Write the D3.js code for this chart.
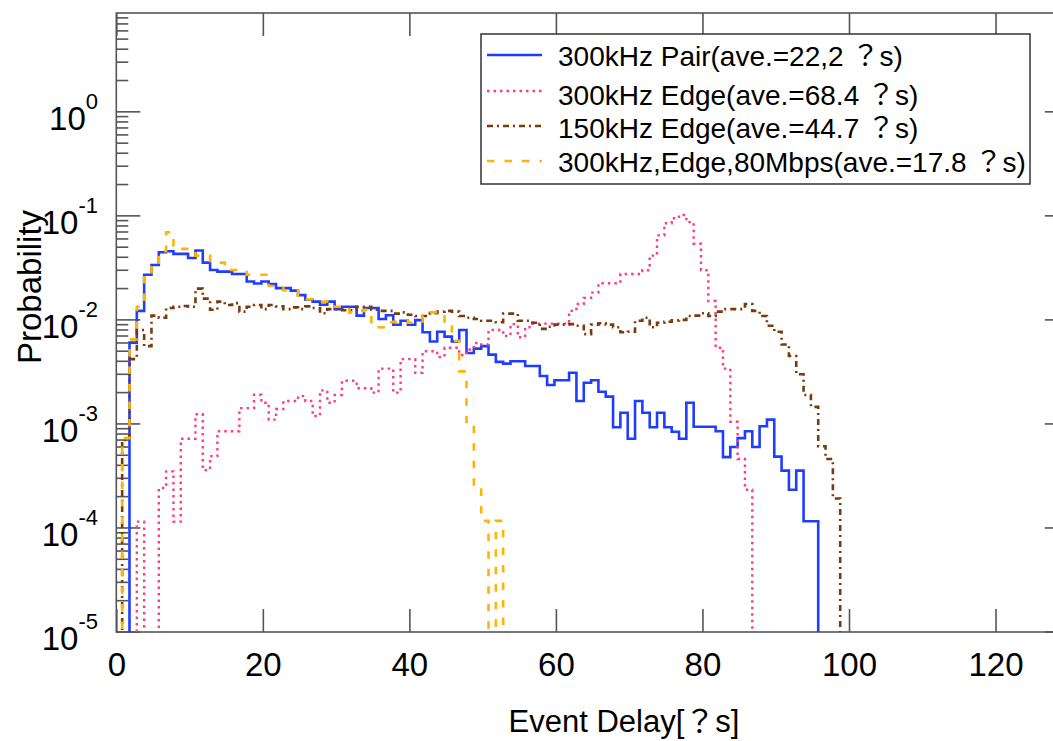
<!DOCTYPE html>
<html><head><meta charset="utf-8">
<script src="https://cdn.jsdelivr.net/npm/d3@7"></script>
<style>
html,body{margin:0;padding:0;background:#fff;}
svg{display:block;font-family:"Liberation Sans",Arial,"Noto Sans CJK JP",sans-serif;}
</style></head>
<body><svg id="chart" width="1053" height="741"></svg>
<script>
// ---------- data ----------
const binWidth = 1;            // µs per histogram bin
const xTicks = [0, 20, 40, 60, 80, 100, 120];
const yTickExps = [0, -1, -2, -3, -4, -5];

const seriesNames = [
  "300kHz Pair(ave.=22,2 \uFF1Fs)",
  "300kHz Edge(ave.=68.4 \uFF1Fs)",
  "150kHz Edge(ave.=44.7 \uFF1Fs)",
  "300kHz,Edge,80Mbps(ave.=17.8 \uFF1Fs)"
];

// 300kHz Pair  (first bin starts at 1.8)
const pairStart = 1.8;
const pairValues = [
 6.05e-3,1.22e-2,2.72e-2,3.37e-2,4.47e-2,4.57e-2,4.31e-2,4.31e-2,3.94e-2,4.64e-2,
 3.55e-2,3.02e-2,2.91e-2,2.91e-2,2.76e-2,2.76e-2,2.34e-2,2.24e-2,2.34e-2,2.21e-2,
 2.02e-2,2.02e-2,1.91e-2,1.73e-2,1.57e-2,1.50e-2,1.40e-2,1.50e-2,1.27e-2,1.34e-2,
 1.34e-2,1.10e-2,1.30e-2,1.30e-2,1.02e-2,1.11e-2,8.97e-3,9.8e-3,8.97e-3,9.95e-3,
 7.6e-3,6.2e-3,7.7e-3,6.9e-3,6.2e-3,8.0e-3,4.8e-3,5.3e-3,5.6e-3,4.64e-3,
 3.95e-3,3.8e-3,4.0e-3,4.0e-3,3.6e-3,3.6e-3,2.89e-3,2.37e-3,2.63e-3,2.63e-3,
 3.1e-3,1.66e-3,2.49e-3,2.63e-3,2.04e-3,1.83e-3,9.3e-4,1.28e-3,7.2e-4,1.66e-3,
 1.28e-3,9.3e-4,1.28e-3,9.3e-4,8.4e-4,7.2e-4,1.6e-3,9.4e-4,9.4e-4,9.4e-4,
 8.5e-4,4.8e-4,6.0e-4,7.3e-4,8.5e-4,6.0e-4,9.5e-4,1.1e-3,4.85e-4,3.56e-4,
 2.33e-4,3.56e-4,1.16e-4,1.16e-4
];

// 300kHz Edge  (first bin starts at 2.8)
const edge300Start = 2.8;
const edge300Values = [
 1.15e-4,0,0,2.42e-4,3.5e-4,1.15e-4,7.2e-4,7.2e-4,1.24e-3,3.6e-4,
 4.9e-4,8.5e-4,8.5e-4,8.5e-4,1.42e-3,1.42e-3,1.91e-3,1.6e-3,1.1e-3,1.39e-3,
 1.66e-3,1.66e-3,1.85e-3,1.66e-3,1.19e-3,2.1e-3,1.6e-3,1.9e-3,2.6e-3,2.6e-3,
 2.2e-3,2.2e-3,2.0e-3,3.4e-3,3.4e-3,2.0e-3,4.2e-3,4.2e-3,3.1e-3,5.0e-3,
 5.0e-3,4.4e-3,5.4e-3,5.4e-3,4.6e-3,5.2e-3,6.0e-3,5.8e-3,8.0e-3,8.0e-3,
 7.0e-3,9.1e-3,6.8e-3,8.5e-3,9.2e-3,9.2e-3,9.2e-3,9.2e-3,9.2e-3,1.22e-2,
 1.42e-2,1.63e-2,1.83e-2,2.25e-2,2.25e-2,2.25e-2,2.76e-2,2.76e-2,2.76e-2,3.0e-2,
 4.15e-2,6.5e-2,8.5e-2,9.5e-2,1.02e-1,8.7e-2,5.4e-2,3.0e-2,1.52e-2,5.4e-3,
 3.4e-3,1.05e-3,4.6e-4,2.33e-4
];

// 150kHz Edge  (first bin starts at 0.8)
const edge150Start = 0.8;
const edge150Values = [
 7e-4,4.2e-3,8e-3,5.6e-3,1.1e-2,1.05e-2,1.3e-2,1.34e-2,1.36e-2,1.34e-2,
 2.0e-2,1.6e-2,1.25e-2,1.5e-2,1.39e-2,1.45e-2,1.2e-2,1.34e-2,1.39e-2,1.27e-2,
 1.39e-2,1.35e-2,1.27e-2,1.32e-2,1.27e-2,1.35e-2,1.3e-2,1.16e-2,1.27e-2,1.27e-2,
 1.24e-2,1.24e-2,1.34e-2,1.34e-2,1.25e-2,1.22e-2,1.22e-2,1.15e-2,1.18e-2,1.12e-2,
 1.09e-2,1.09e-2,1.16e-2,1.2e-2,1.22e-2,1.2e-2,1.09e-2,1.05e-2,1.02e-2,9.8e-3,
 9.8e-3,9.5e-3,1.15e-2,1.15e-2,9.8e-3,9.8e-3,9.4e-3,8.2e-3,8.6e-3,9.0e-3,
 9.0e-3,9.1e-3,8.8e-3,7.3e-3,9.0e-3,9.3e-3,9.0e-3,8.5e-3,7.6e-3,7.7e-3,
 9.8e-3,1.05e-2,8.5e-3,9.4e-3,9.6e-3,9.9e-3,1.0e-2,1.09e-2,1.1e-2,1.16e-2,
 1.09e-2,1.2e-2,1.27e-2,1.27e-2,1.27e-2,1.42e-2,1.22e-2,1.09e-2,8.8e-3,7.7e-3,
 5.8e-3,4.5e-3,3.0e-3,1.9e-3,1.46e-3,6.1e-4,4.6e-4,1.92e-4
];

// 300kHz, Edge, 80Mbps  (first bin starts at 0.8)
const mbpsStart = 0.8;
const mbpsValues = [
 7.3e-4,6.5e-3,1.34e-2,2.72e-2,3.55e-2,4.57e-2,6.97e-2,4.82e-2,4.82e-2,4.82e-2,
 4.15e-2,4.15e-2,3.55e-2,3.55e-2,3.02e-2,3.02e-2,3.02e-2,2.72e-2,2.72e-2,2.72e-2,
 2.12e-2,2.12e-2,1.93e-2,1.91e-2,1.58e-2,1.58e-2,1.55e-2,1.5e-2,1.4e-2,1.34e-2,
 1.3e-2,1.18e-2,1.22e-2,1.25e-2,8.5e-3,8.5e-3,9.5e-3,9.6e-3,9.7e-3,9.4e-3,
 9.4e-3,1.1e-2,1.18e-2,1.18e-2,9.4e-3,6.3e-3,3.2e-3,1.05e-3,2.34e-4,1.17e-4,
 0,1.17e-4
];

const series = [
  {name: seriesNames[0], start: pairStart,    values: pairValues,    color: "#1f3dff", width: 2.6, dash: null},
  {name: seriesNames[1], start: edge300Start, values: edge300Values, color: "#ff3c7d", width: 2.4, dash: "2.5,4"},
  {name: seriesNames[2], start: edge150Start, values: edge150Values, color: "#7a3a0c", width: 2.6, dash: "6,4,2,4"},
  {name: seriesNames[3], start: mbpsStart,    values: mbpsValues,    color: "#ffb400", width: 2.6, dash: "7.5,10"}
];

// ---------- layout ----------
const svg = d3.select("#chart");
const W = 1053, H = 741;
const mLeft = 116.3, mRight = 1068.8, mTop = 13, mBottom = 632;
const FLOOR = 1e-8;

const x = d3.scaleLinear().domain([0, 130]).range([mLeft, mRight]);
const y = d3.scaleLog().domain([1e-5, Math.pow(10, 0.95)]).range([mBottom, mTop]);

svg.append("rect").attr("width", W).attr("height", H).attr("fill", "#fff");

svg.append("defs").append("clipPath").attr("id", "plotclip")
  .append("rect").attr("x", mLeft).attr("y", mTop).attr("width", mRight - mLeft).attr("height", mBottom - mTop);

const axisColor = "#555";

// frame
svg.append("rect").attr("x", mLeft).attr("y", mTop).attr("width", mRight - mLeft).attr("height", mBottom - mTop)
  .attr("fill", "none").attr("stroke", axisColor).attr("stroke-width", 1.6);

// x axis bottom (ticks inward) with labels
const xAxisB = svg.append("g").attr("transform", `translate(0,${mBottom})`)
  .call(d3.axisBottom(x).tickValues(xTicks).tickSize(-23).tickPadding(21).tickFormat(d3.format("d")));
xAxisB.select(".domain").remove();
xAxisB.selectAll(".tick line").attr("stroke", axisColor).attr("stroke-width", 1.6);
xAxisB.selectAll(".tick text").attr("font-size", 33).attr("fill", "#000")
  .attr("font-family", '"Liberation Sans",Arial,sans-serif');

// x axis top (ticks inward)
const xAxisT = svg.append("g").attr("transform", `translate(0,${mTop})`)
  .call(d3.axisTop(x).tickValues(xTicks).tickSize(-23).tickFormat(""));
xAxisT.select(".domain").remove();
xAxisT.selectAll(".tick line").attr("stroke", axisColor).attr("stroke-width", 1.6);

// y minor / major ticks
const minorVals = [];
for (let e = -5; e <= 0; e++) for (let m = 2; m <= 9; m++) {
  const v = m * Math.pow(10, e);
  if (v <= y.domain()[1]) minorVals.push(v);
}
const yAxisL = svg.append("g").attr("transform", `translate(${mLeft},0)`);
yAxisL.selectAll("line.minor").data(minorVals).join("line").attr("class", "minor")
  .attr("x1", 0).attr("x2", 12).attr("y1", d => y(d)).attr("y2", d => y(d))
  .attr("stroke", axisColor).attr("stroke-width", 1.6);
yAxisL.selectAll("line.major").data(yTickExps).join("line").attr("class", "major")
  .attr("x1", 0).attr("x2", 24).attr("y1", d => y(Math.pow(10, d))).attr("y2", d => y(Math.pow(10, d)))
  .attr("stroke", axisColor).attr("stroke-width", 1.6);

const yAxisR = svg.append("g").attr("transform", `translate(${mRight},0)`);
yAxisR.selectAll("line.major").data(yTickExps).join("line").attr("class", "major")
  .attr("x1", 0).attr("x2", -24).attr("y1", d => y(Math.pow(10, d))).attr("y2", d => y(Math.pow(10, d)))
  .attr("stroke", axisColor).attr("stroke-width", 1.6);
yAxisR.selectAll("line.minor").data(minorVals).join("line").attr("class", "minor")
  .attr("x1", 0).attr("x2", -12).attr("y1", d => y(d)).attr("y2", d => y(d))
  .attr("stroke", axisColor).attr("stroke-width", 1.6);

// y tick labels 10^n
const yl = svg.append("g");
yTickExps.forEach(e => {
  const t = yl.append("text").attr("x", 98).attr("y", y(Math.pow(10, e)) + 18)
    .attr("text-anchor", "end").attr("font-size", 33).attr("fill", "#000");
  t.append("tspan").text("10");
  t.append("tspan").attr("dy", -21).attr("font-size", 22).text(String(e));
});

// axis titles
svg.append("text").attr("x", 624).attr("y", 732).attr("text-anchor", "middle")
  .attr("font-size", 31).attr("fill", "#000").text("Event Delay[\uFF1Fs]");
svg.append("text").attr("transform", "translate(41,287) rotate(-90)").attr("text-anchor", "middle")
  .attr("font-size", 33).attr("fill", "#000").text("Probability");

// ---------- histograms ----------
const line = d3.line()
  .x(d => x(d[0]))
  .y(d => y(d[1] > 0 ? d[1] : FLOOR))
  .curve(d3.curveStepAfter);

function stepPoints(s) {
  const pts = [[s.start, FLOOR]];
  s.values.forEach((v, i) => pts.push([s.start + i * binWidth, v]));
  pts.push([s.start + s.values.length * binWidth, FLOOR]);
  return pts;
}

const plot = svg.append("g").attr("clip-path", "url(#plotclip)");
series.forEach(s => {
  plot.append("path").datum(stepPoints(s)).attr("d", line)
    .attr("fill", "none").attr("stroke", s.color).attr("stroke-width", s.width)
    .attr("stroke-dasharray", s.dash).attr("stroke-linejoin", "miter").attr("stroke-linecap", "butt");
});

// ---------- legend ----------
const lg = svg.append("g");
lg.append("rect").attr("x", 481).attr("y", 34).attr("width", 549).attr("height", 150)
  .attr("fill", "#fff").attr("stroke", "#333").attr("stroke-width", 1.5);
const rowLineY = [55, 91, 126, 161];
const rowTextY = [66, 105, 138, 172];
series.forEach((s, i) => {
  lg.append("line").attr("x1", 487).attr("x2", 542).attr("y1", rowLineY[i]).attr("y2", rowLineY[i])
    .attr("stroke", s.color).attr("stroke-width", s.width).attr("stroke-dasharray", s.dash);
  lg.append("text").attr("x", 558).attr("y", rowTextY[i]).attr("font-size", 28).attr("fill", "#000").text(s.name);
});
</script></body></html>
